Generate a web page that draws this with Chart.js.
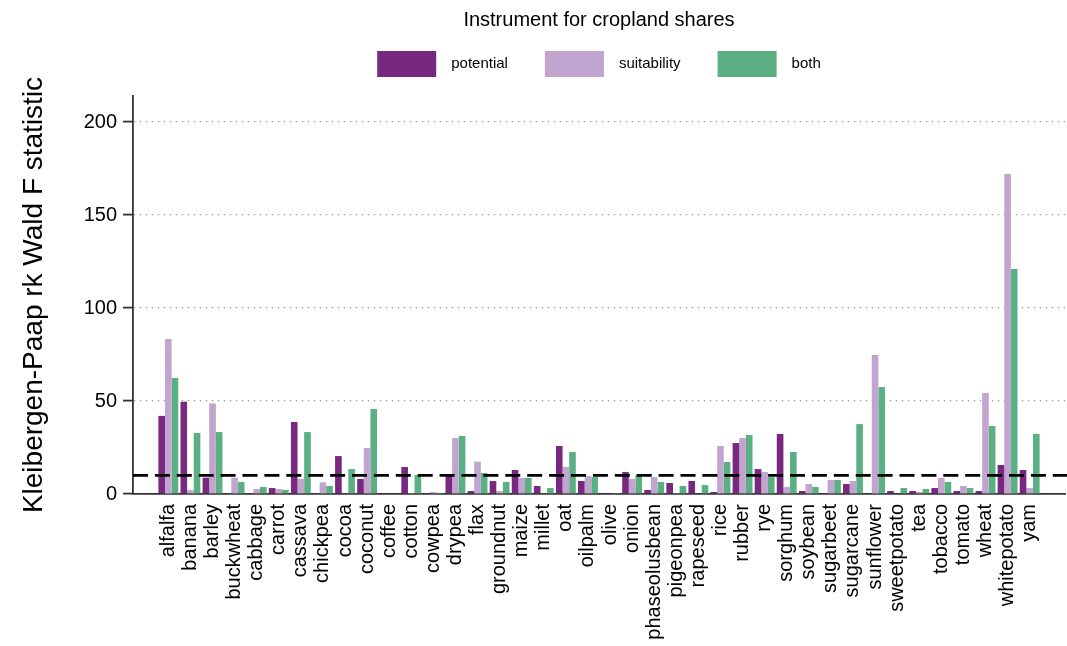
<!DOCTYPE html>
<html>
<head>
<meta charset="utf-8">
<script src="https://cdn.jsdelivr.net/npm/chart.js@4.4.0/dist/chart.umd.min.js"></script>
<style>
  html, body { margin: 0; padding: 0; background: #fff; }
  #wrap { width: 1067px; height: 646px; }
</style>
</head>
<body>
<div id="wrap"><canvas id="myChart"></canvas></div>
<script>
const crops = ['alfalfa','banana','barley','buckwheat','cabbage','carrot','cassava','chickpea','cocoa','coconut',
  'coffee','cotton','cowpea','drypea','flax','groundnut','maize','millet','oat','oilpalm',
  'olive','onion','phaseolusbean','pigeonpea','rapeseed','rice','rubber','rye','sorghum','soybean',
  'sugarbeet','sugarcane','sunflower','sweetpotato','tea','tobacco','tomato','wheat','whitepotato','yam'];

const potential   = [42, 49.6, 8.8, 0.5, 0.5, 3.2, 38.7, 0.5, 20.4, 8.1,
  0.4, 14.5, 0.4, 10.2, 1.6, 7.0, 12.9, 4.3, 25.8, 7.0,
  0.4, 11.8, 2.2, 5.9, 7.0, 1.1, 27.4, 13.4, 32.3, 1.6,
  0.4, 5.4, 0.4, 1.6, 1.6, 3.2, 1.6, 1.6, 15.6, 12.9];
const suitability = [83.3, 2.1, 48.7, 8.8, 2.7, 2.7, 8.1, 6.3, 0.3, 24.7,
  0.3, 0.5, 1.1, 30.1, 17.4, 1.6, 8.6, 0.4, 14.5, 9.7,
  0.3, 8.1, 9.1, 0.5, 0.3, 25.8, 30.1, 11.8, 3.8, 5.4,
  7.5, 7.0, 74.7, 0.3, 1.1, 8.6, 4.3, 54.3, 172, 3.2];
const both        = [62.4, 32.8, 33.3, 6.5, 3.8, 2.2, 33.3, 4.3, 13.4, 45.7,
  0.3, 10.2, 0.6, 31.2, 11.3, 6.5, 8.6, 3.2, 22.6, 9.1,
  0.5, 10.2, 6.5, 4.3, 4.8, 17.2, 31.7, 9.1, 22.6, 3.8,
  7.5, 37.6, 57.5, 3.2, 2.7, 6.5, 3.2, 36.6, 121, 32.3];

const seriesNames = ['potential', 'suitability', 'both'];
const yTicks = [0, 50, 100, 150, 200];
const threshold = 10;

const colors = ['#78297f', '#c2a5cf', '#5ab082'];

Chart.defaults.font.family = "'Liberation Sans', Arial, sans-serif";
Chart.defaults.color = '#000';

function toPoints(arr) {
  return arr.map((v, i) => ({x: i, y: v}));
}

// dashed reference line at the weak-instrument threshold
const refLine = {
  id: 'refLine',
  afterDatasetsDraw(chart) {
    const {ctx, chartArea: a, scales: {y}} = chart;
    const py = y.getPixelForValue(threshold);
    ctx.save();
    ctx.strokeStyle = '#000';
    ctx.lineWidth = 2.6;
    ctx.setLineDash([15, 6.9]);
    ctx.beginPath();
    ctx.moveTo(a.left, py);
    ctx.lineTo(a.right + 2, py);
    ctx.stroke();
    ctx.restore();
  }
};

// legend row under the title, wide boxes like the original
const legendRow = {
  id: 'legendRow',
  afterDraw(chart) {
    const ctx = chart.ctx, a = chart.chartArea;
    ctx.save();
    ctx.font = "15px 'Liberation Sans', Arial, sans-serif";
    const items = chart.data.datasets.map(d => ({
      t: d.label, c: d.backgroundColor, w: 59 + 15 + ctx.measureText(d.label).width
    }));
    const gap = 37;
    const total = items.reduce((s, it) => s + it.w, 0) + gap * (items.length - 1);
    let x = (a.left + a.right) / 2 - total / 2;
    items.forEach(it => {
      ctx.fillStyle = it.c;
      ctx.fillRect(x, 51, 59, 26);
      ctx.fillStyle = '#000';
      ctx.textBaseline = 'middle';
      ctx.fillText(it.t, x + 74, 64);
      x += it.w + gap;
    });
    ctx.restore();
  }
};

const series = [potential, suitability, both];

const myChart = new Chart(document.getElementById('myChart'), {
  type: 'bar',
  data: {
    datasets: series.map((s, i) => ({
      label: seriesNames[i],
      data: toPoints(s),
      backgroundColor: colors[i],
      borderWidth: 0,
      barPercentage: 1,
      categoryPercentage: 0.9
    }))
  },
  options: {
    responsive: true,
    maintainAspectRatio: false,
    animation: false,
    layout: { padding: { left: 0, right: 2, top: 0, bottom: 0 } },
    plugins: {
      legend: { display: false },
      tooltip: { enabled: false },
      title: {
        display: true,
        text: 'Instrument for cropland shares',
        fullSize: false,
        font: { size: 20, weight: 'normal' },
        color: '#000',
        padding: { top: 8, bottom: 64 }
      }
    },
    scales: {
      x: {
        type: 'linear',
        offset: false,
        bounds: 'data',
        min: -1.6,
        max: crops.length - 1 + 1.6,
        afterBuildTicks: s => { s.ticks = crops.map((_, i) => ({value: i})); },
        afterFit: s => { s.height = 152; },
        grid: { display: false, drawTicks: false, offset: false },
        border: { display: true, color: '#333', width: 1.8 },
        ticks: {
          autoSkip: false,
          maxRotation: 90,
          minRotation: 90,
          padding: 10,
          color: '#000',
          font: { size: 20 },
          callback: v => crops[v]
        }
      },
      y: {
        min: 0,
        max: 214,
        afterBuildTicks: s => { s.ticks = yTicks.map(v => ({value: v})); },
        afterFit: s => { s.width = 133; },
        grid: {
          color: c => (c.tick && c.tick.value === 0) ? 'rgba(0,0,0,0)' : '#9a9a9a',
          lineWidth: 1.2,
          tickColor: '#333',
          tickLength: 10,
          tickWidth: 1.8
        },
        border: { display: true, color: '#333', width: 1.8, dash: [1.4, 4.6] },
        ticks: { padding: 6, color: '#000', font: { size: 20 } },
        title: {
          display: true,
          text: 'Kleibergen-Paap rk Wald F statistic',
          color: '#000',
          font: { size: 28 },
          padding: { top: 17, bottom: 0 }
        }
      }
    }
  },
  plugins: [refLine, legendRow]
});
</script>
</body>
</html>
